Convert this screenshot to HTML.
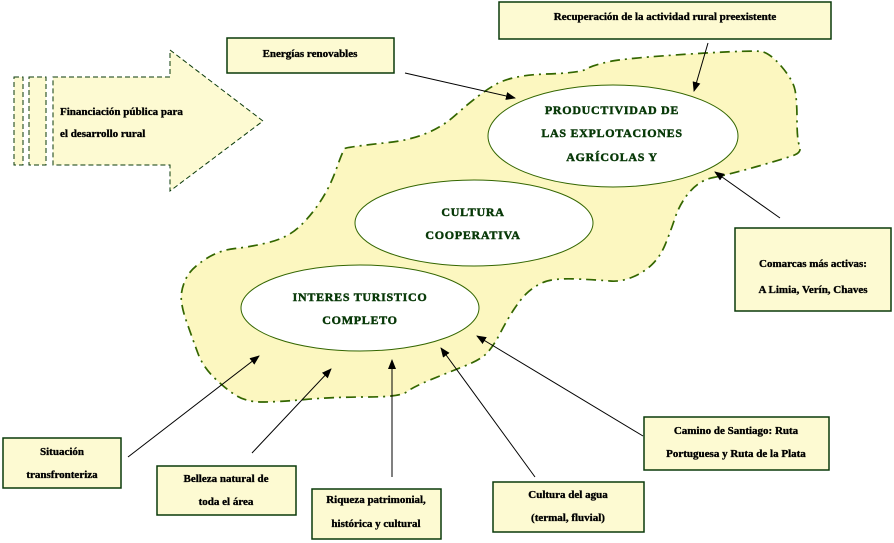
<!DOCTYPE html>
<html><head><meta charset="utf-8"><style>
html,body{margin:0;padding:0;background:#fff;}
svg{display:block;}
.bt{font-family:"Liberation Serif",serif;font-weight:bold;font-size:11px;fill:#000;stroke:#000;stroke-width:0.35;}
.et{font-family:"Liberation Serif",serif;font-weight:bold;font-size:12px;fill:#073807;stroke:#073807;stroke-width:0.45;letter-spacing:0.7px;}
.box{fill:#fdfad2;stroke:#0a3a0a;stroke-width:1.5;}
.cn{stroke:#000;stroke-width:1;fill:none;marker-end:url(#ah);}
</style></head><body>
<svg width="894" height="543" viewBox="0 0 894 543" xmlns="http://www.w3.org/2000/svg">
<defs>
<marker id="ah" markerWidth="10" markerHeight="8" refX="9" refY="4" orient="auto" markerUnits="userSpaceOnUse">
<path d="M0,0 L10,4 L0,8 Z" fill="#000"/>
</marker>
</defs>

<!-- blob -->
<path d="M345,148.5 Q347,147 388.5,142.5 Q430,138 455,115.5 Q480,93 496.5,84 Q513,75 546.5,74 Q580,73 586.5,69 Q593,65 610,61.5 Q627,58 690,54 Q753,50 761.5,51.5 Q770,53 781.5,66.5 Q793,80 795,90 Q797,100 797,120 Q797,140 799.5,146 Q802,152 794.5,155 Q787,158 757,166.5 Q727,175 713.5,177.5 Q700,180 690,191.5 Q680,203 675,218 Q670,233 665,245 Q660,257 651.5,265 Q643,273 631.5,277.5 Q620,282 610,281 Q600,280 576.5,279 Q553,278 543,282.5 Q533,287 526.5,293.5 Q520,300 513.5,310 Q507,320 500,333.5 Q493,347 486.5,353.5 Q480,360 463.5,366.5 Q447,373 430,380 Q413,387 406.5,392 Q400,397 366.5,397 Q333,397 305,399.5 Q277,402 262,402 Q247,402 237,396 Q227,390 215,378.5 Q203,367 198,353.5 Q193,340 186.5,321.5 Q180,303 181.5,293 Q183,283 188,275 Q193,267 206.5,258.5 Q220,250 235,248.5 Q250,247 268.5,242.5 Q287,238 298.5,227.5 Q310,217 320,202 Q330,187 336.5,168.5 Q343,150 345,148.5 Z" fill="#fcf7c0" stroke="#336600" stroke-width="1.7" stroke-dasharray="10 5 2 5"/>

<!-- ellipses -->
<ellipse cx="613" cy="136" rx="125" ry="51" fill="#fff" stroke="#336600" stroke-width="1"/>
<ellipse cx="474" cy="223" rx="119" ry="43" fill="#fff" stroke="#336600" stroke-width="1"/>
<ellipse cx="360" cy="308" rx="119" ry="43" fill="#fff" stroke="#336600" stroke-width="1"/>

<text class="et" x="612" y="114" text-anchor="middle">PRODUCTIVIDAD DE</text>
<text class="et" x="612" y="137" text-anchor="middle">LAS EXPLOTACIONES</text>
<text class="et" x="612" y="161" text-anchor="middle">AGRÍCOLAS Y</text>
<text class="et" x="473" y="216" text-anchor="middle">CULTURA</text>
<text class="et" x="473" y="239" text-anchor="middle">COOPERATIVA</text>
<text class="et" x="360" y="301" text-anchor="middle">INTERES TURISTICO</text>
<text class="et" x="360" y="324" text-anchor="middle">COMPLETO</text>

<!-- big arrow -->
<rect x="14" y="77" width="9" height="88" fill="#fdfad2" stroke="#0a3a0a" stroke-width="1" stroke-dasharray="5 3"/>
<rect x="29" y="77" width="17" height="88" fill="#fdfad2" stroke="#0a3a0a" stroke-width="1" stroke-dasharray="5 3"/>
<path d="M53,77 L170,77 L170,50 L263,121 L170,191 L170,165 L53,165 Z" fill="#fdfad2" stroke="#0a3a0a" stroke-width="1" stroke-dasharray="5 3"/>
<text class="bt" x="60" y="115">Financiación pública para</text>
<text class="bt" x="60" y="137">el desarrollo rural</text>

<!-- boxes -->
<rect class="box" x="227" y="38" width="167" height="35"/>
<text class="bt" x="310" y="57" text-anchor="middle">Energías renovables</text>

<rect class="box" x="499" y="2" width="332" height="37"/>
<text class="bt" x="665" y="20" text-anchor="middle">Recuperación de la actividad rural preexistente</text>

<rect class="box" x="735" y="228" width="156" height="83"/>
<text class="bt" x="813" y="267" text-anchor="middle">Comarcas más activas:</text>
<text class="bt" x="813" y="293" text-anchor="middle">A Limia, Verín, Chaves</text>

<rect class="box" x="644" y="417" width="185" height="53"/>
<text class="bt" x="736" y="434" text-anchor="middle">Camino de Santiago: Ruta</text>
<text class="bt" x="736" y="457" text-anchor="middle">Portuguesa y Ruta de la Plata</text>

<rect class="box" x="493" y="482" width="151" height="50"/>
<text class="bt" x="568" y="498" text-anchor="middle">Cultura del agua</text>
<text class="bt" x="568" y="521" text-anchor="middle">(termal, fluvial)</text>

<rect class="box" x="312" y="489" width="129" height="50"/>
<text class="bt" x="376" y="503" text-anchor="middle">Riqueza patrimonial,</text>
<text class="bt" x="376" y="527" text-anchor="middle">histórica y cultural</text>

<rect class="box" x="157" y="466" width="139" height="49"/>
<text class="bt" x="226" y="482" text-anchor="middle">Belleza natural de</text>
<text class="bt" x="226" y="505" text-anchor="middle">toda el área</text>

<rect class="box" x="3" y="438" width="118" height="50"/>
<text class="bt" x="62" y="455" text-anchor="middle">Situación</text>
<text class="bt" x="62" y="478" text-anchor="middle">transfronteriza</text>

<!-- connectors -->
<line class="cn" x1="405" y1="73" x2="515" y2="98"/>
<line class="cn" x1="708" y1="43" x2="694" y2="91"/>
<line class="cn" x1="780" y1="218" x2="715" y2="172"/>
<line class="cn" x1="643" y1="436" x2="477" y2="336"/>
<line class="cn" x1="535" y1="477" x2="441" y2="348"/>
<line class="cn" x1="392" y1="477" x2="392" y2="360"/>
<line class="cn" x1="252" y1="453" x2="331" y2="369"/>
<line class="cn" x1="128" y1="457" x2="259" y2="356"/>
</svg>
</body></html>
